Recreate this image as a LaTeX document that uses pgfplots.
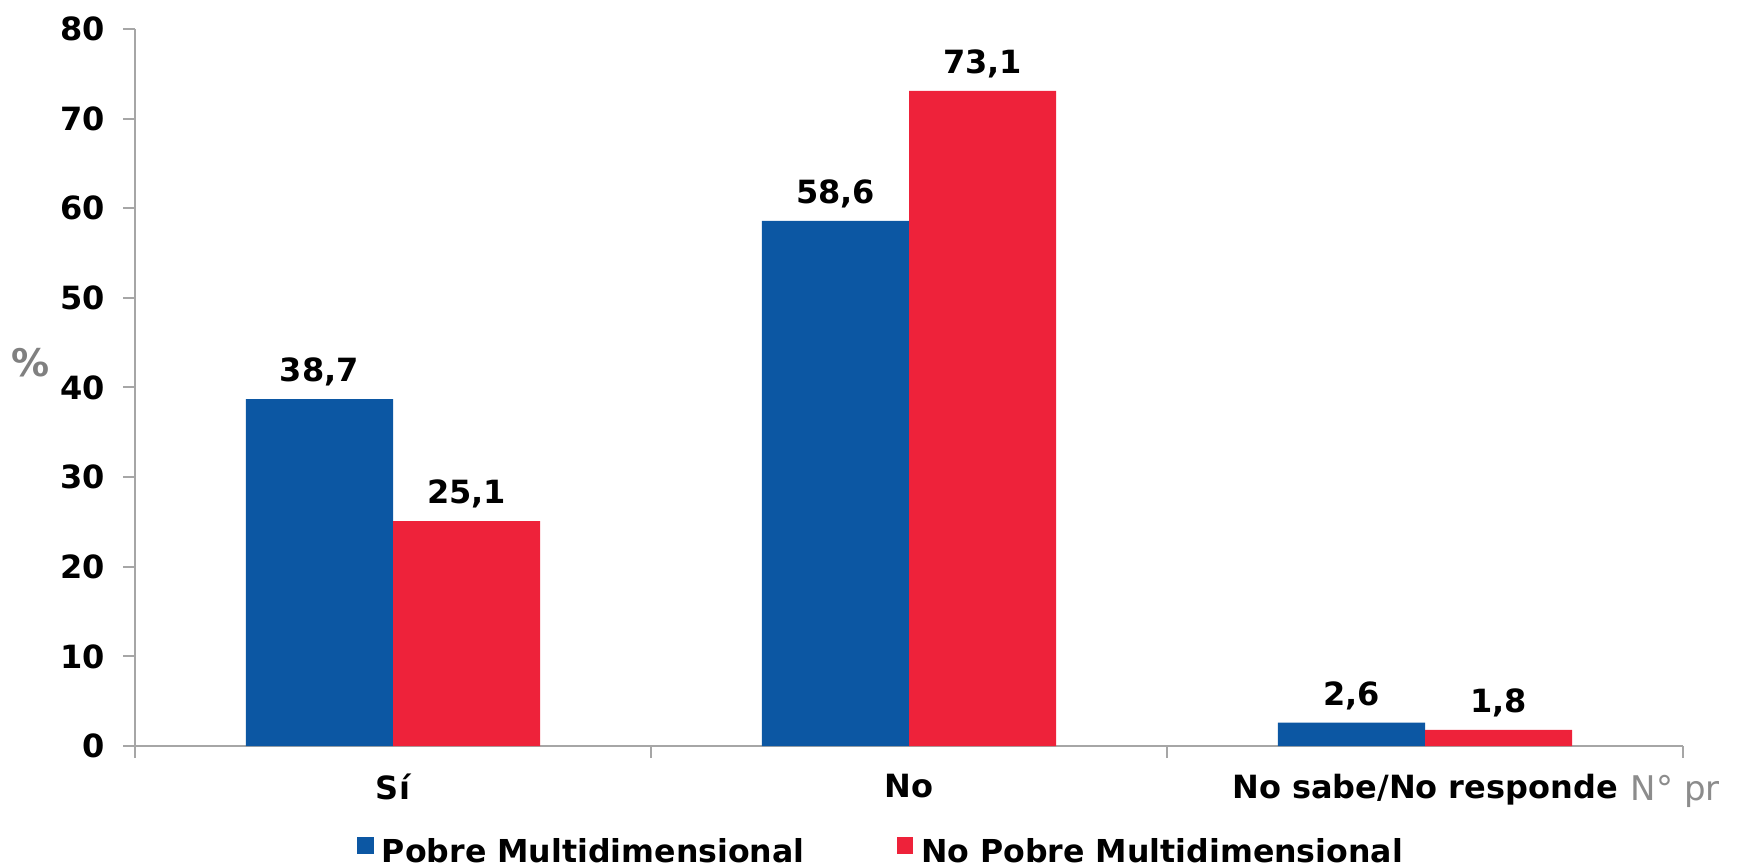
\documentclass[border=0pt]{standalone}
\usepackage{fontspec}
\setmainfont{DejaVu Sans}
\usepackage{pgfplots}
\pgfplotsset{compat=1.18}
\definecolor{pobre}{HTML}{0C57A3}
\definecolor{nopobre}{HTML}{EE223A}
\definecolor{axisgray}{HTML}{A6A6A6}
\newcommand{\lblfont}{\bfseries\fontsize{8}{9}\selectfont}

\begin{document}
\begin{tikzpicture}
\begin{axis}[
  name=ax,
  scale only axis, width=387pt, height=179.25pt,
  xmin=-0.5, xmax=2.5, ymin=0, ymax=80,
  ybar=0pt, bar width=0.285,
  axis lines*=left,
  axis line style={axisgray, line width=0.5pt},
  ytick={0,10,...,80},
  xtick={0,1,2},
  xticklabels={Sí, No, No sabe/No responde},
  minor xtick={-0.5,0.5,1.5,2.5},
  tick align=outside,
  major tick length=3pt, minor tick length=3pt,
  tick style={axisgray, line width=0.5pt},
  every major x tick/.append style={draw=none},
  ticklabel style={font=\lblfont, text=black},
  /pgf/number format/assume math mode=true,
  yticklabel style={xshift=-1pt},
  xticklabel style={yshift=-0.5pt},
  nodes near coords={\pgfmathprintnumber[use comma,fixed,fixed zerofill,precision=1]{\pgfplotspointmeta}},
  nodes near coords style={font=\lblfont, text=black, anchor=south, yshift=-0.3pt},
  legend columns=2,
  legend style={draw=none, fill=none, at={(0.4826,-0.1500)}, anchor=center,
    font=\bfseries\fontsize{7.9}{9}\selectfont, inner sep=0pt,
    nodes={inner sep=1pt},
    /tikz/every odd column/.append style={column sep=1pt},
    /tikz/every even column/.append style={column sep=22pt}},
  legend image code/.code={\fill[#1] (0pt,0pt) rectangle (4.2pt,4.2pt);},
]
\addplot[fill=pobre, draw=none] coordinates {(0,38.7) (1,58.6) (2,2.6)};
\addplot[fill=nopobre, draw=none] coordinates {(0,25.1) (1,73.1) (2,1.8)};
\legend{Pobre Multidimensional, No Pobre Multidimensional}
\end{axis}
\node[font=\bfseries\fontsize{9.5}{11}\selectfont, text=black!50] at ([xshift=-26pt, yshift=95.75pt]ax.south west) {\%};
\node[anchor=base west, font=\fontsize{8.5}{10}\selectfont, text=black!45, inner sep=0pt] at ([xshift=373.75pt, yshift=-13.5pt]ax.south west) {N° pr};
\pgfresetboundingbox
\path ([xshift=-33.75pt, yshift=-30pt]ax.south west) rectangle ([xshift=404pt, yshift=186.5pt]ax.south west);
\end{tikzpicture}
\end{document}
